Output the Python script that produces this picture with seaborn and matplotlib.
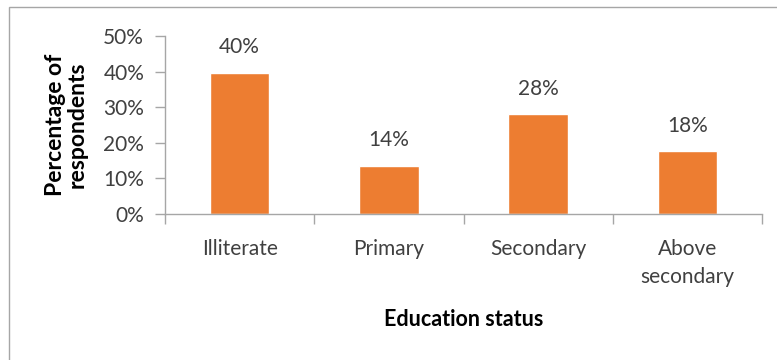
import matplotlib
matplotlib.use("Agg")
import matplotlib.pyplot as plt
from matplotlib.patches import Rectangle
from matplotlib.ticker import FixedLocator, PercentFormatter
import seaborn as sns
import pandas as pd

# Education level of respondents (share of respondents)
categories = ["Illiterate", "Primary", "Secondary", "Above\nsecondary"]
shares = [0.397, 0.136, 0.280, 0.176]
y_ticks = [0.0, 0.1, 0.2, 0.3, 0.4, 0.5]

df = pd.DataFrame({"status": categories, "share": shares})

sns.set_theme(style="white")
plt.rcParams["font.family"] = ["Lato", "DejaVu Sans"]

text_color = "#404040"
axis_color = "#a6a6a6"
bar_color = "#ED7D31"
fs = 15

fig = plt.figure(figsize=(7.77, 3.60), dpi=100)
ax = fig.add_axes([165 / 777, 1 - 214 / 360, (762 - 165) / 777, (214 - 36) / 360])

sns.barplot(data=df, x="status", y="share", color=bar_color, width=0.4,
            saturation=1, ax=ax)

ax.set_xlim(-0.5, len(categories) - 0.5)
ax.set_ylim(0, 0.5)
ax.yaxis.set_major_locator(FixedLocator(y_ticks))
ax.yaxis.set_major_formatter(PercentFormatter(1.0, decimals=0))

# Value labels above each bar
for container in ax.containers:
    ax.bar_label(container, labels=[f"{v:.0%}" for v in container.datavalues],
                 padding=11, fontsize=fs, color=text_color)

# Axis styling: only left and bottom lines
for side in ["top", "right"]:
    ax.spines[side].set_visible(False)
for side in ["left", "bottom"]:
    ax.spines[side].set_color(axis_color)
    ax.spines[side].set_linewidth(1.0)

# Category boundary ticks on the x axis
ax.set_xticks([i + 0.5 for i in range(-1, len(categories))], minor=True)
ax.tick_params(axis="x", which="major", length=0, pad=18, labelsize=fs,
               labelcolor=text_color)
ax.tick_params(axis="x", which="minor", bottom=True, length=7, width=1,
               color=axis_color, direction="out")
ax.tick_params(axis="y", which="major", left=True, length=7, width=1,
               color=axis_color, direction="out", pad=8, labelsize=fs,
               labelcolor=text_color)
for lbl in ax.get_xticklabels():
    lbl.set_linespacing(1.5)

ax.set_xlabel("Education status", fontsize=15.5, fontweight="bold",
              color="black", labelpad=16)
ax.set_ylabel("Percentage of\nrespondents", fontsize=16.5, fontweight="bold",
              color="black", labelpad=11, linespacing=1.05)

# Chart area frame
fig.patches.append(Rectangle((9 / 777, -0.05), 1.0, 1 - 7 / 360 + 0.05,
                             transform=fig.transFigure, fill=False,
                             edgecolor="#a6a6a6", linewidth=1.0))

fig.savefig("out.png", dpi=100)
